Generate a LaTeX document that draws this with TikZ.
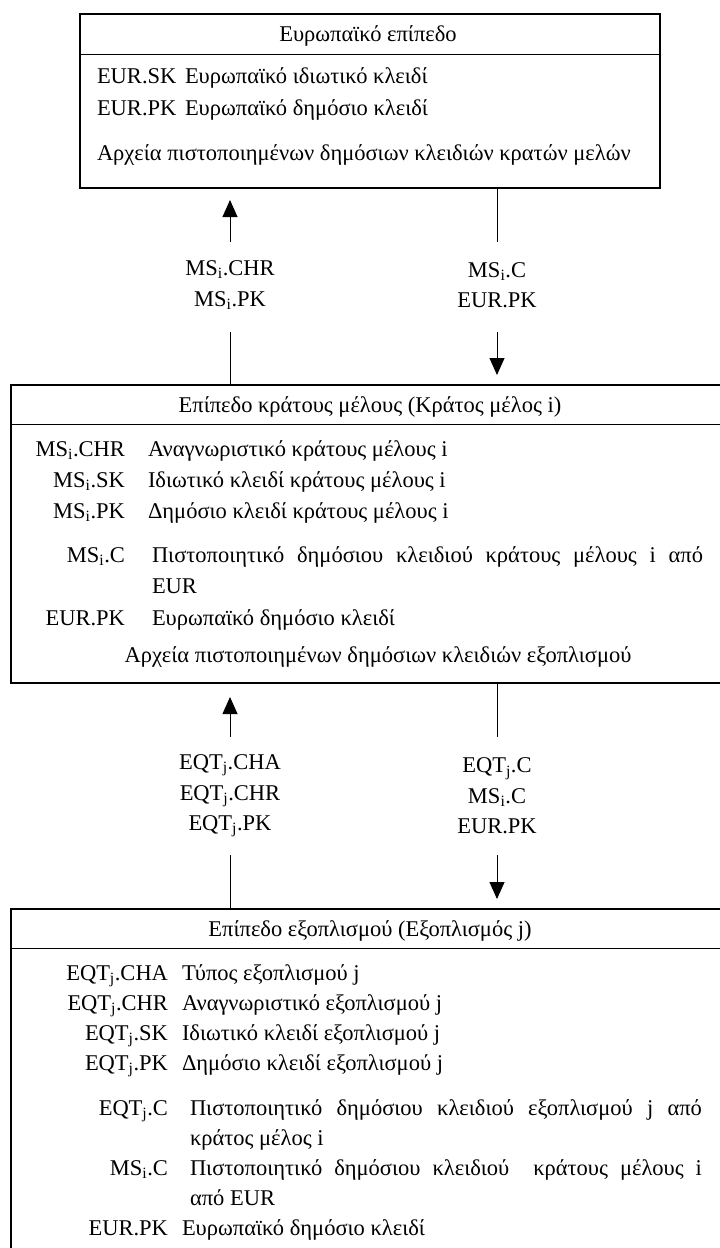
\documentclass[tikz,border=0pt]{standalone}
\usepackage{fontspec}
\setmainfont{Liberation Serif}
\usetikzlibrary{arrows.meta,calc}
\newcommand{\subi}{\textsubscript{i}}
\newcommand{\subj}{\textsubscript{j}}
\begin{document}
\begin{tikzpicture}[x=1pt,y=-1pt,
  every node/.style={font=\fontsize{22.5}{30.5}\selectfont, inner sep=0pt, outer sep=0pt},
  box/.style={draw, line width=1.4pt, anchor=north west},
  divl/.style={line width=0.9pt},
  conn/.style={line width=0.9pt},
  arr/.style={conn, -{Triangle[length=17pt,width=15pt]}},
  lft/.style={anchor=base west},
  rgt/.style={anchor=base east},
  ctr/.style={anchor=base},
  lbl/.style={align=center, anchor=center}]
\useasboundingbox (0,0) rectangle (720,1248);
\clip (0,0) rectangle (720,1248);
\fill[white] (0,0) rectangle (720,1248);

% boxes
\node[box, minimum width=580pt, minimum height=174pt] (top) at (80,14) {};
\node[box, minimum width=718pt, minimum height=298pt] (mid) at (11,385) {};
\node[box, minimum width=718pt, minimum height=420pt] (bot) at (11,909) {};
\draw[divl] (top.west |- 0,54) -- (top.east |- 0,54);
\draw[divl] (mid.west |- 0,424) -- (mid.east |- 0,424);
\draw[divl] (bot.west |- 0,948) -- (bot.east |- 0,948);

% top box text
\node[ctr] (t0) at (368,41) {Ευρωπαϊκό επίπεδο};
\node[lft] (t1a) at (97,83) {EUR.SK};
\node[lft] (t1b) at (185,83) {Ευρωπαϊκό ιδιωτικό κλειδί};
\node[lft] (t2a) at (97,115) {EUR.PK};
\node[lft] (t2b) at (185,115) {Ευρωπαϊκό δημόσιο κλειδί};
\node[lft] (t3) at (97,160) {Αρχεία πιστοποιημένων δημόσιων κλειδιών κρατών μελών};

% first gap
\node[lbl] (la) at (230,285) {MS\subi.CHR\\MS\subi.PK};
\node[lbl] (lb) at (497,285) {MS\subi.C\\EUR.PK};
\coordinate (a1) at (230,242); \coordinate (a2) at (230,332);
\coordinate (b1) at (497,242); \coordinate (b2) at (497,332);
\draw[arr, shorten >=12pt] (a1) -- (a1 |- top.south);
\draw[conn] (a2) -- (a2 |- mid.north);
\draw[conn] (b1 |- top.south) -- (b1);
\draw[arr, shorten >=10pt] (b2) -- (b2 |- mid.north);

% middle box text
\node[ctr] (m0) at (370,412) {Επίπεδο κράτους μέλους (Κράτος μέλος i)};
\node[rgt] (m1a) at (125,456) {MS\subi.CHR};
\node[lft] (m1b) at (148,456) {Αναγνωριστικό κράτους μέλους i};
\node[rgt] (m2a) at (125,487) {MS\subi.SK};
\node[lft] (m2b) at (148,487) {Ιδιωτικό κλειδί κράτους μέλους i};
\node[rgt] (m3a) at (125,518) {MS\subi.PK};
\node[lft] (m3b) at (148,518) {Δημόσιο κλειδί κράτους μέλους i};
\node[rgt] (m4a) at (125,562) {MS\subi.C};
\node[lft] (m4b) at (152,562) {\makebox[551pt][s]{Πιστοποιητικό δημόσιου κλειδιού κράτους μέλους i από}};
\node[lft] (m4c) at (152,593) {EUR};
\node[rgt] (m5a) at (125,625) {EUR.PK};
\node[lft] (m5b) at (152,625) {Ευρωπαϊκό δημόσιο κλειδί};
\node[ctr] (m6) at (378,662) {Αρχεία πιστοποιημένων δημόσιων κλειδιών εξοπλισμού};

% second gap
\node[lbl] (lc) at (230,796) {EQT\subj.CHA\\EQT\subj.CHR\\EQT\subj.PK};
\node[lbl] (ld) at (497,796) {EQT\subj.C\\MS\subi.C\\EUR.PK};
\coordinate (c1) at (230,737); \coordinate (c2) at (230,855);
\coordinate (d1) at (497,737); \coordinate (d2) at (497,855);
\draw[arr, shorten >=14pt] (c1) -- (c1 |- mid.south);
\draw[conn] (c2) -- (c2 |- bot.north);
\draw[conn] (d1 |- mid.south) -- (d1);
\draw[arr, shorten >=10pt] (d2) -- (d2 |- bot.north);

% bottom box text
\node[ctr] (e0) at (370,936) {Επίπεδο εξοπλισμού (Εξοπλισμός j)};
\node[rgt] (e1a) at (168,980) {EQT\subj.CHA};
\node[lft] (e1b) at (182,980) {Τύπος εξοπλισμού j};
\node[rgt] (e2a) at (168,1010) {EQT\subj.CHR};
\node[lft] (e2b) at (182,1010) {Αναγνωριστικό εξοπλισμού j};
\node[rgt] (e3a) at (168,1040) {EQT\subj.SK};
\node[lft] (e3b) at (182,1040) {Ιδιωτικό κλειδί εξοπλισμού j};
\node[rgt] (e4a) at (168,1070) {EQT\subj.PK};
\node[lft] (e4b) at (182,1070) {Δημόσιο κλειδί εξοπλισμού j};
\node[rgt] (e5a) at (168,1115) {EQT\subj.C};
\node[lft] (e5b) at (190,1115) {\makebox[512pt][s]{Πιστοποιητικό δημόσιου κλειδιού εξοπλισμού j από}};
\node[lft] (e5c) at (190,1145) {κράτος μέλος i};
\node[rgt] (e6a) at (168,1175) {MS\subi.C};
\node[lft] (e6b) at (190,1175) {\makebox[512pt][s]{Πιστοποιητικό δημόσιου κλειδιού\ \ κράτους μέλους i}};
\node[lft] (e6c) at (190,1205) {από EUR};
\node[rgt] (e7a) at (168,1235) {EUR.PK};
\node[lft] (e7b) at (182,1235) {Ευρωπαϊκό δημόσιο κλειδί};
\end{tikzpicture}
\end{document}
